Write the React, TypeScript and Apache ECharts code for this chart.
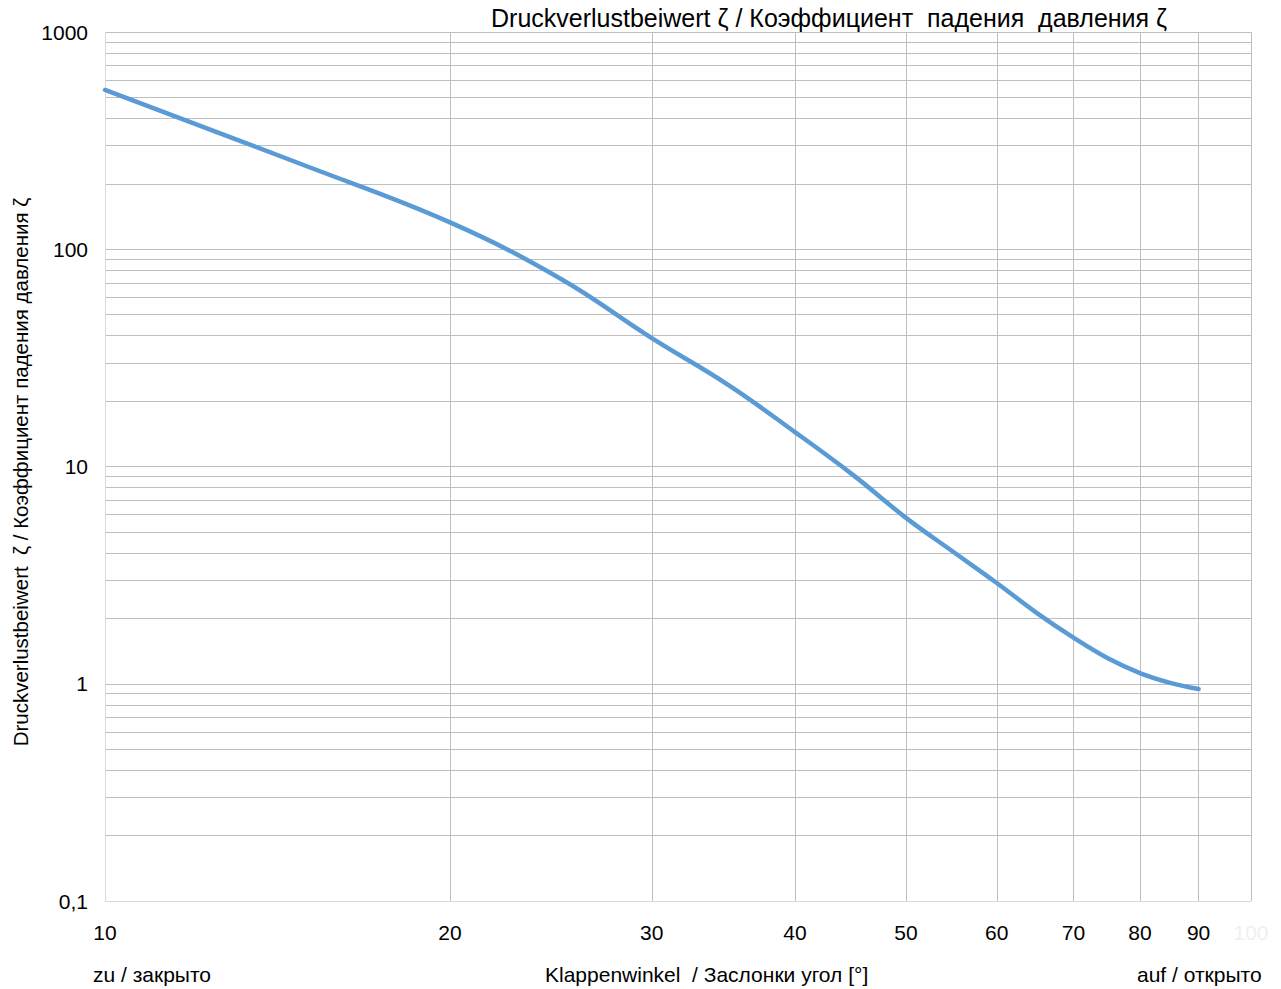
import React, { useEffect, useRef } from "react";
import * as echarts from "echarts";

// Klappenwinkel [°]
const angles = [10, 15, 20, 25, 30, 35, 40, 45, 50, 55, 60, 65, 70, 75, 80, 85, 90];
// Druckverlustbeiwert ζ
const zeta = [541, 241, 133, 73, 39, 23.7, 14.4, 9.1, 5.8, 4.04, 2.91, 2.12, 1.63, 1.31, 1.12, 1.01, 0.946];

const xTickValues = [10, 20, 30, 40, 50, 60, 70, 80, 90, 100];
const yLabelValues = [0.1, 1, 10, 100, 1000];
const yGridValues = [
  0.1, 0.2, 0.3, 0.4, 0.5, 0.6, 0.7, 0.8, 0.9,
  1, 2, 3, 4, 5, 6, 7, 8, 9,
  10, 20, 30, 40, 50, 60, 70, 80, 90,
  100, 200, 300, 400, 500, 600, 700, 800, 900,
  1000,
];

const titleText = "Druckverlustbeiwert ζ / Коэффициент  падения  давления ζ";
const yName = "Druckverlustbeiwert  ζ / Коэффициент падения давления ζ";
const xName = "Klappenwinkel  / Заслонки угол [°]";
const leftNote = "zu / закрыто";
const rightNote = "auf / открыто";

const FONT = "'Liberation Sans', Arial, sans-serif";

export default function App() {
  const ref = useRef<HTMLDivElement>(null);
  useEffect(() => {
    document.body.style.margin = "0";
    if (!ref.current) return;
    const chart = echarts.init(ref.current, null, { renderer: "svg" });
    chart.setOption({
      animation: false,
      backgroundColor: "#ffffff",
      textStyle: { fontFamily: FONT },
      title: {
        text: titleText,
        left: 486,
        top: 0,
        textStyle: { fontFamily: FONT, fontSize: 25, fontWeight: "normal", color: "#000000" },
      },
      grid: { left: 105, top: 32, width: 1146, height: 869, containLabel: false },
      xAxis: {
        type: "log",
        logBase: 10,
        min: 10,
        max: 100,
        axisLine: { show: true, lineStyle: { color: "#d9d9d9", width: 1 } },
        axisTick: { show: false, customValues: xTickValues },
        axisLabel: {
          customValues: xTickValues,
          margin: 21,
          fontSize: 21,
          color: "#000000",
          fontFamily: FONT,
          formatter: (v: number) => (Math.round(v) === 100 ? "{f|100}" : String(Math.round(v))),
          rich: { f: { color: "#f0f0f0", fontSize: 21, fontFamily: FONT } },
        },
        splitLine: { show: true, lineStyle: { color: "#bfbfbf", width: 1 } },
      },
      yAxis: {
        type: "log",
        logBase: 10,
        min: 0.1,
        max: 1000,
        axisLine: { show: true, lineStyle: { color: "#d9d9d9", width: 1 } },
        axisTick: { show: false, customValues: yGridValues },
        axisLabel: {
          customValues: yLabelValues,
          margin: 17,
          fontSize: 21,
          color: "#000000",
          fontFamily: FONT,
          formatter: (v: number) => String(v).replace(".", ","),
        },
        splitLine: { show: true, lineStyle: { color: "#bfbfbf", width: 1 } },
      },
      graphic: [
        {
          type: "text",
          x: 20,
          y: 472,
          rotation: Math.PI / 2,
          style: {
            text: yName,
            fontFamily: FONT,
            fontSize: 20.5,
            fill: "#000000",
            align: "center",
            verticalAlign: "middle",
          },
        },
        {
          type: "text",
          left: 93,
          top: 964,
          style: { text: leftNote, fontFamily: FONT, fontSize: 21, fill: "#000000" },
        },
        {
          type: "text",
          left: 545,
          top: 964,
          style: { text: xName, fontFamily: FONT, fontSize: 21, fill: "#000000" },
        },
        {
          type: "text",
          left: 1137,
          top: 964,
          style: { text: rightNote, fontFamily: FONT, fontSize: 21, fill: "#000000" },
        },
      ],
      series: [
        {
          type: "line",
          data: angles.map((a, i) => [a, zeta[i]]),
          smooth: 0.4,
          showSymbol: false,
          symbol: "none",
          lineStyle: { color: "#5b9bd5", width: 4.5, cap: "round" },
        },
      ],
    });
    return () => chart.dispose();
  }, []);
  return <div ref={ref} style={{ width: 1281, height: 989 }} />;
}
